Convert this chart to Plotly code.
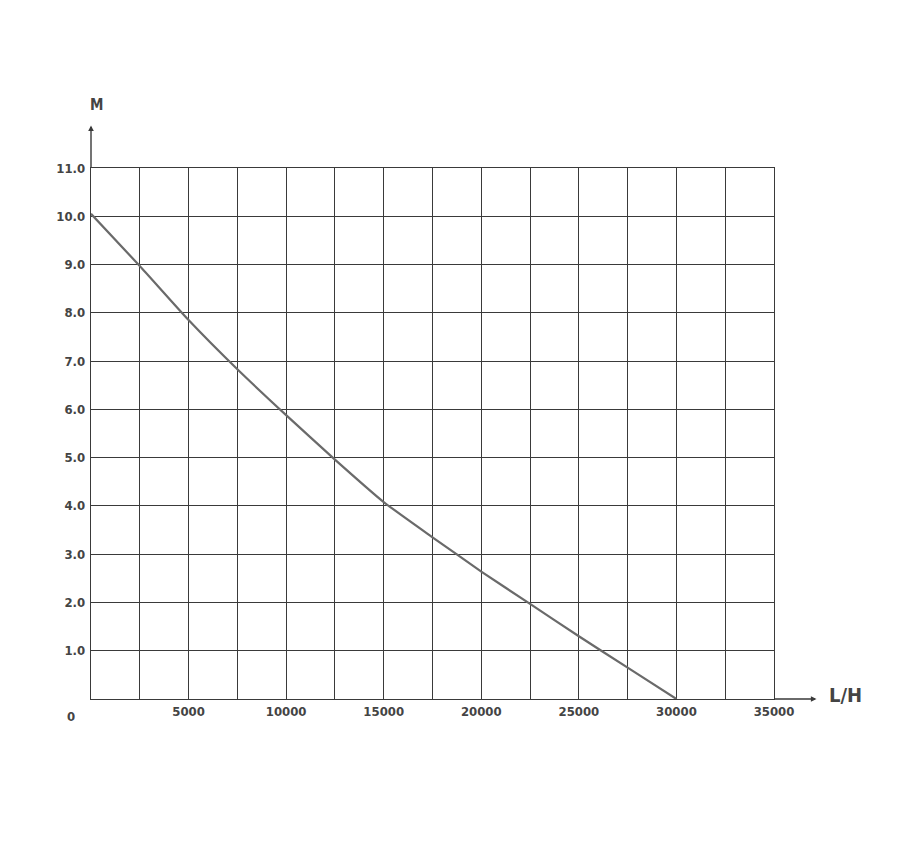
import plotly.graph_objects as go

flow = [0, 2500, 5000, 7500, 10000, 12500, 15000, 17500, 20000, 22500, 25000, 27500, 30000]
head = [10.05, 8.97, 7.85, 6.83, 5.88, 4.96, 4.08, 3.35, 2.64, 1.97, 1.30, 0.65, 0.0]

x_ticks = [5000, 10000, 15000, 20000, 25000, 30000, 35000]
x_labels = ["5000", "10000", "15000", "20000", "25000", "30000", "35000"]
y_ticks = [1, 2, 3, 4, 5, 6, 7, 8, 9, 10, 11]
y_labels = ["1.0", "2.0", "3.0", "4.0", "5.0", "6.0", "7.0", "8.0", "9.0", "10.0", "11.0"]

FONT = "DejaVu Sans Condensed, Liberation Sans Narrow, sans-serif"
GRID = "#3a3a3a"
TXT = "#444"

fig = go.Figure()
fig.add_trace(go.Scatter(x=flow, y=head, mode="lines",
                         line=dict(color="#6a6a6a", width=2.2, shape="spline", smoothing=0.5),
                         showlegend=False, hoverinfo="skip"))

fig.update_layout(
    width=900, height=850,
    margin=dict(l=83, r=134, t=160, b=159),
    paper_bgcolor="white", plot_bgcolor="white",
    font=dict(family=FONT, size=13, color=TXT),
    xaxis=dict(range=[0, 35000], tickvals=x_ticks, ticktext=x_labels,
               showgrid=True, gridcolor=GRID, gridwidth=1.3,
               minor=dict(dtick=2500, tick0=0, showgrid=True, gridcolor=GRID, gridwidth=1.3),
               showline=True, mirror=True, linecolor=GRID, linewidth=1.4,
               zeroline=False, ticks="", ticklabelstandoff=0,
               tickfont=dict(family=FONT, size=13, color=TXT, weight="bold")),
    yaxis=dict(range=[0, 11], tickvals=y_ticks, ticktext=y_labels,
               showgrid=True, gridcolor=GRID, gridwidth=1.3,
               showline=True, mirror=True, linecolor=GRID, linewidth=1.4,
               zeroline=False, ticks="", ticklabelstandoff=2,
               tickfont=dict(family=FONT, size=13, color=TXT, weight="bold")),
)

# axis extension arrows
fig.add_annotation(xref="paper", yref="paper", x=0, y=1.0, ax=0, ay=-44,
                   text="", showarrow=True, arrowside="start", arrowhead=2,
                   arrowsize=0.8, arrowwidth=1.4, arrowcolor=GRID, startstandoff=0,
                   startarrowhead=2, startarrowsize=0.8)
fig.add_annotation(xref="paper", yref="paper", x=1, y=0, ax=44, ay=0,
                   text="", showarrow=True, arrowside="start", startarrowhead=2,
                   startarrowsize=0.8, arrowwidth=1.4, arrowcolor=GRID)

# labels
fig.add_annotation(xref="paper", yref="paper", x=-0.004, y=1.14, text="M",
                   showarrow=False, font=dict(family=FONT, size=15, color=TXT, weight="bold"))
fig.add_annotation(xref="paper", yref="paper", x=1.078, y=-0.018, text="L/H",
                   xanchor="left", showarrow=False,
                   font=dict(family=FONT, size=20, color=TXT, weight="bold"))
fig.add_annotation(xref="paper", yref="paper", x=-0.02, y=-0.015, text="0",
                   xanchor="right", yanchor="top", showarrow=False,
                   font=dict(family=FONT, size=13, color=TXT, weight="bold"))

fig.write_html("out.html")
